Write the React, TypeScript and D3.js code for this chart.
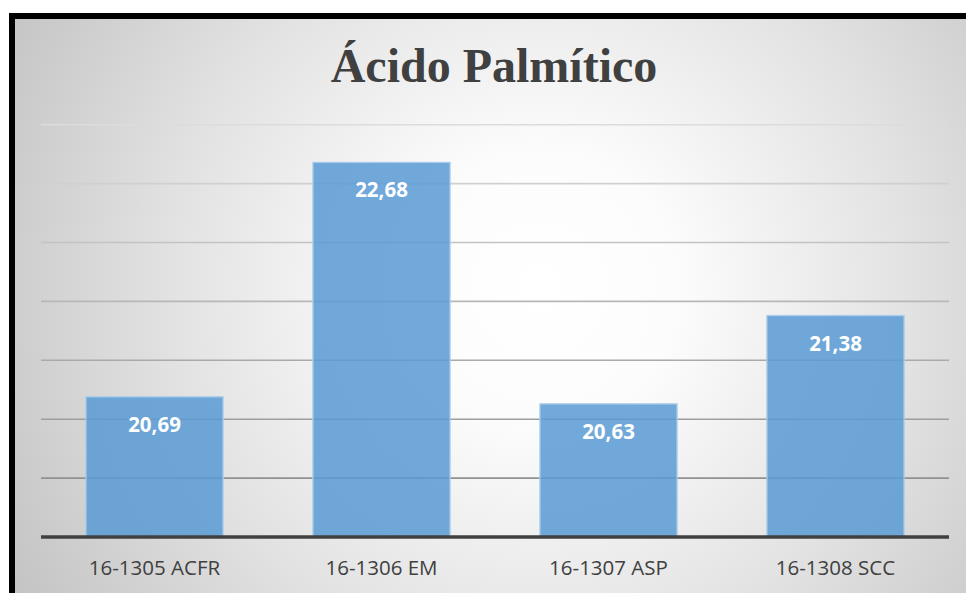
import React from "react";
import * as d3 from "d3";

// Chart data
const categories = ["16-1305 ACFR", "16-1306 EM", "16-1307 ASP", "16-1308 SCC"];
const values = [20.69, 22.68, 20.63, 21.38];
const yTicks = [19.5, 20, 20.5, 21, 21.5, 22, 22.5, 23];
const title = "Ácido Palmítico";

const W = 966;
const H = 593;
const plot = { left: 41, right: 949, top: 124.7, bottom: 537 };

const fmt = (v: number) => v.toFixed(2).replace(".", ",");

export default function App() {
  const x = d3
    .scaleBand<string>()
    .domain(categories)
    .range([plot.left, plot.right])
    .paddingInner(0.396)
    .paddingOuter(0.198);

  const y = d3.scaleLinear().domain([19.5, 23]).range([plot.bottom, plot.top]);

  // gridlines get darker towards the bottom of the plot
  const gridColor = d3
    .scaleLinear<string>()
    .domain([plot.top, plot.bottom])
    .range(["#dcdcdc", "#858585"])
    .interpolate(d3.interpolateRgb);

  return (
    <div style={{ position: "fixed", left: 0, top: 0, width: W, height: H }}>
      <svg width={W} height={H} style={{ display: "block" }}>
        <defs>
          <radialGradient
            id="bg"
            gradientUnits="userSpaceOnUse"
            cx={540}
            cy={290}
            r={620}
          >
            <stop offset="0" stopColor="#ffffff" />
            <stop offset="0.22" stopColor="#fcfcfc" />
            <stop offset="0.6" stopColor="#e2e2e2" />
            <stop offset="1" stopColor="#c2c2c2" />
          </radialGradient>
        </defs>
        <rect x={0} y={0} width={W} height={H} fill="#ffffff" />
        {/* frame */}
        <rect x={9} y={13} width={W - 9} height={H - 13} fill="#000000" />
        <rect x={15} y={19} width={W - 15} height={H - 19} fill="url(#bg)" />

        <text
          x={494}
          y={82}
          textAnchor="middle"
          fontFamily="'Liberation Serif', 'Times New Roman', serif"
          fontWeight="bold"
          fontSize={48}
          fill="#404040"
        >
          {title}
        </text>

        {/* gridlines */}
        {yTicks.slice(1).map((t) => (
          <line
            key={t}
            x1={plot.left}
            x2={plot.right}
            y1={y(t)}
            y2={y(t)}
            stroke={gridColor(y(t))}
            strokeWidth={1.6}
          />
        ))}

        {/* bars */}
        {categories.map((c, i) => (
          <rect
            key={c}
            x={x(c)}
            y={y(values[i])}
            width={x.bandwidth()}
            height={plot.bottom - y(values[i])}
            fill="#5b9bd5"
            fillOpacity={0.86}
            stroke="#a9cdea"
            strokeWidth={1.3}
          />
        ))}

        {/* axis baseline */}
        <line
          x1={plot.left}
          x2={plot.right}
          y1={plot.bottom}
          y2={plot.bottom}
          stroke="#404040"
          strokeWidth={3.6}
        />

        {/* value labels */}
        {categories.map((c, i) => (
          <text
            key={c + "-v"}
            x={(x(c) as number) + x.bandwidth() / 2}
            y={y(values[i]) + 35}
            textAnchor="middle"
            fontFamily="'Open Sans', sans-serif"
            fontWeight="bold"
            fontSize={20.5}
            fill="#ffffff"
          >
            {fmt(values[i])}
          </text>
        ))}

        {/* category labels */}
        {categories.map((c) => (
          <text
            key={c + "-c"}
            x={(x(c) as number) + x.bandwidth() / 2}
            y={575}
            textAnchor="middle"
            fontFamily="'Open Sans', sans-serif"
            fontSize={20.5}
            fill="#404040"
          >
            {c}
          </text>
        ))}
      </svg>
    </div>
  );
}
